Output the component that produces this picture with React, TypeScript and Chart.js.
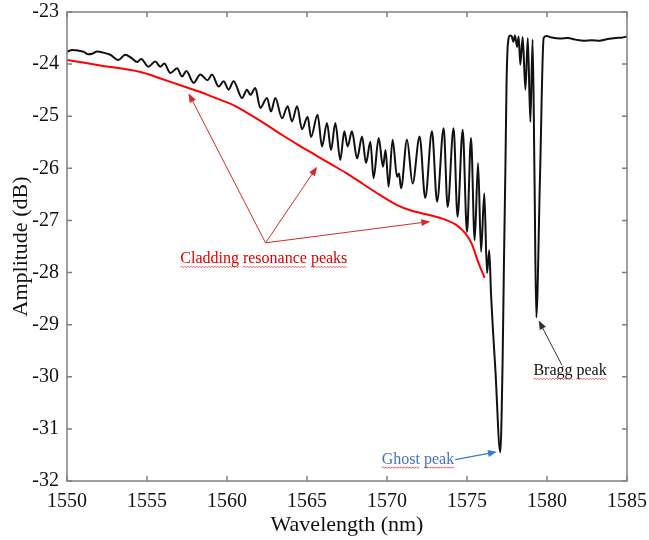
import { useEffect, useRef } from 'react';
import { Chart, registerables } from 'chart.js';

Chart.register(...registerables);

const FONT = '"Liberation Serif", "Times New Roman", serif';

// Measured transmission spectrum (black)
const blackWl = [
  1550.00, 1550.33, 1550.70, 1551.02, 1551.33, 1551.58, 1551.88, 1552.27, 1552.71, 1553.21,
  1553.64, 1554.02, 1554.39, 1554.64, 1555.08, 1555.52, 1555.83, 1556.08, 1556.46, 1556.88,
  1557.19, 1557.46, 1557.91, 1558.33, 1558.79, 1559.06, 1559.48, 1559.79, 1560.10, 1560.41,
  1560.94, 1561.25, 1561.46, 1561.77, 1562.08, 1562.50, 1562.75, 1563.02, 1563.44, 1563.79,
  1564.06, 1564.38, 1564.69, 1565.04, 1565.25, 1565.66, 1565.94, 1566.25, 1566.50, 1566.77,
  1567.08, 1567.33, 1567.54, 1567.81, 1568.13, 1568.44, 1568.69, 1568.96, 1569.16, 1569.48,
  1569.75, 1569.91, 1570.10, 1570.35, 1570.63, 1570.75, 1570.88, 1571.25, 1571.60, 1572.04,
  1572.39, 1572.81, 1573.13, 1573.54, 1573.79, 1574.16, 1574.41, 1574.73, 1575.00, 1575.25,
  1575.48, 1575.69, 1575.88, 1576.08, 1576.25, 1576.39, 1576.50, 1576.78, 1577.08, 1577.22,
  1577.31, 1577.40, 1577.47, 1577.56, 1577.70, 1577.80, 1577.90, 1578.00, 1578.13, 1578.23,
  1578.33, 1578.48, 1578.65, 1578.80, 1578.96, 1579.10, 1579.22, 1579.33, 1579.56, 1579.79,
  1579.95, 1580.30, 1580.80, 1581.30, 1581.80, 1582.30, 1582.80, 1583.30, 1583.80, 1584.30,
  1584.70, 1585.00,
];
const blackAmp = [
  -23.76, -23.73, -23.74, -23.76, -23.81, -23.80, -23.76, -23.78, -23.82, -23.92,
  -23.82, -23.88, -23.96, -23.90, -24.05, -23.95, -24.05, -23.99, -24.17, -24.08,
  -24.24, -24.13, -24.36, -24.20, -24.31, -24.20, -24.43, -24.33, -24.49, -24.33,
  -24.65, -24.49, -24.59, -24.46, -24.84, -24.65, -24.91, -24.65, -25.04, -24.81,
  -25.10, -24.81, -25.25, -25.01, -25.40, -24.97, -25.58, -25.13, -25.65, -25.13,
  -25.84, -25.29, -25.58, -25.29, -25.81, -25.39, -25.90, -25.49, -26.19, -25.42,
  -25.97, -25.65, -26.35, -25.45, -26.16, -26.10, -26.38, -25.45, -26.29, -25.39,
  -26.57, -25.29, -26.64, -25.23, -26.74, -25.23, -26.93, -25.26, -27.22, -25.42,
  -27.38, -25.90, -27.60, -26.48, -28.01, -27.57, -28.40, -29.90, -31.45, -29.80,
  -27.80, -26.00, -24.40, -23.60, -23.45, -23.47, -23.57, -23.45, -23.67, -23.47,
  -24.01, -23.48, -24.49, -23.50, -25.11, -23.53, -26.20, -28.86, -26.20, -23.50,
  -23.46, -23.49, -23.51, -23.50, -23.53, -23.55, -23.54, -23.55, -23.52, -23.50,
  -23.49, -23.47,
];

// Lower envelope of cladding resonances (red)
const redWl = [
  1550.0, 1552.0, 1554.6, 1555.8, 1557.5, 1558.3, 1559.1, 1560.5, 1561.5, 1562.5,
  1563.5, 1564.5, 1565.5, 1566.5, 1567.5, 1568.5, 1569.5, 1570.6, 1571.5, 1572.7,
  1573.5, 1574.3, 1574.9, 1575.3, 1575.7, 1576.1,
];
const redAmp = [
  -23.92, -24.02, -24.15, -24.27, -24.45, -24.53, -24.63, -24.80, -24.98, -25.17,
  -25.37, -25.56, -25.74, -25.92, -26.10, -26.30, -26.50, -26.70, -26.81, -26.90,
  -26.97, -27.08, -27.25, -27.45, -27.80, -28.10,
];

const xTickValues = [1550, 1555, 1560, 1565, 1570, 1575, 1580, 1585];
const yTickValues = [-32, -31, -30, -29, -28, -27, -26, -25, -24, -23];

// Annotations (data coordinates)
const claddingLabel = 'Cladding resonance peaks';
const claddingLabelAt = [1557.08, -27.82];
const claddingArrowFrom = [1562.41, -27.43];
const claddingArrowTo = [
  [1557.6, -24.56],
  [1565.63, -25.97],
  [1572.71, -27.02],
];
const braggLabel = 'Bragg peak';
const braggLabelAt = [1579.15, -29.97];
const braggArrowFrom = [1580.94, -29.78];
const braggArrowTo = [1579.48, -28.92];
const ghostLabel = 'Ghost peak';
const ghostLabelAt = [1569.67, -31.67];
const ghostArrowFrom = [1574.27, -31.59];
const ghostArrowTo = [1576.87, -31.44];

function drawArrow(ctx: CanvasRenderingContext2D, x1: number, y1: number, x2: number, y2: number, color: string, width: number) {
  const ang = Math.atan2(y2 - y1, x2 - x1);
  const hl = 9;
  const hw = 3.5;
  ctx.strokeStyle = color;
  ctx.fillStyle = color;
  ctx.lineWidth = width;
  ctx.beginPath();
  ctx.moveTo(x1, y1);
  ctx.lineTo(x2 - Math.cos(ang) * hl * 0.8, y2 - Math.sin(ang) * hl * 0.8);
  ctx.stroke();
  ctx.beginPath();
  ctx.moveTo(x2, y2);
  ctx.lineTo(x2 - Math.cos(ang) * hl - Math.sin(ang) * hw, y2 - Math.sin(ang) * hl + Math.cos(ang) * hw);
  ctx.lineTo(x2 - Math.cos(ang) * hl + Math.sin(ang) * hw, y2 - Math.sin(ang) * hl - Math.cos(ang) * hw);
  ctx.closePath();
  ctx.fill();
}

function drawLabel(ctx: CanvasRenderingContext2D, text: string, x: number, y: number, color: string) {
  ctx.font = `16px ${FONT}`;
  ctx.fillStyle = color;
  ctx.textAlign = 'left';
  ctx.textBaseline = 'alphabetic';
  ctx.fillText(text, x, y);
  // wavy spell-check underline under each word
  const words = text.split(' ');
  let cx = x;
  const spaceW = ctx.measureText(' ').width;
  ctx.strokeStyle = '#e03030';
  ctx.lineWidth = 0.8;
  for (const w of words) {
    const ww = ctx.measureText(w).width;
    ctx.beginPath();
    let up = true;
    ctx.moveTo(cx, y + 4);
    for (let px = cx + 1.5; px <= cx + ww; px += 1.5) {
      ctx.lineTo(px, y + (up ? 3 : 4.5));
      up = !up;
    }
    ctx.stroke();
    cx += ww + spaceW;
  }
}

const overlayPlugin = {
  id: 'overlay',
  afterDatasetsDraw(chart: any) {
    const { ctx, scales } = chart;
    const xs = scales.x;
    const ys = scales.y;
    const P = (p: number[]) => [xs.getPixelForValue(p[0]), ys.getPixelForValue(p[1])];
    ctx.save();
    const from = P(claddingArrowFrom);
    for (const t of claddingArrowTo) {
      const to = P(t);
      drawArrow(ctx, from[0], from[1], to[0], to[1], '#d42a2a', 1);
    }
    const cl = P(claddingLabelAt);
    drawLabel(ctx, claddingLabel, cl[0], cl[1], '#dd0000');
    const bf = P(braggArrowFrom);
    const bt = P(braggArrowTo);
    drawArrow(ctx, bf[0], bf[1], bt[0], bt[1], '#333333', 1);
    const bl = P(braggLabelAt);
    drawLabel(ctx, braggLabel, bl[0], bl[1], '#111111');
    const gf = P(ghostArrowFrom);
    const gt = P(ghostArrowTo);
    drawArrow(ctx, gf[0], gf[1], gt[0], gt[1], '#2f7fd6', 1.2);
    const gl = P(ghostLabelAt);
    drawLabel(ctx, ghostLabel, gl[0], gl[1], '#4472c4');
    ctx.restore();
  },
  afterDraw(chart: any) {
    const { ctx, chartArea: a, scales } = chart;
    const xs = scales.x;
    const ys = scales.y;
    ctx.save();
    ctx.strokeStyle = '#808080';
    ctx.lineWidth = 1.5;
    ctx.strokeRect(a.left, a.top, a.right - a.left, a.bottom - a.top);
    const tl = 5;
    ctx.beginPath();
    for (const v of xTickValues) {
      const px = xs.getPixelForValue(v);
      ctx.moveTo(px, a.bottom);
      ctx.lineTo(px, a.bottom - tl);
      ctx.moveTo(px, a.top);
      ctx.lineTo(px, a.top + tl);
    }
    for (const v of yTickValues) {
      const py = ys.getPixelForValue(v);
      ctx.moveTo(a.left, py);
      ctx.lineTo(a.left + tl, py);
      ctx.moveTo(a.right, py);
      ctx.lineTo(a.right - tl, py);
    }
    ctx.stroke();
    ctx.restore();
  },
};

const zeroOverhang = (s: any) => {
  s.paddingLeft = 0;
  s.paddingRight = 0;
  s.paddingTop = 0;
  s.paddingBottom = 0;
};

export default function App() {
  const ref = useRef<HTMLCanvasElement | null>(null);
  useEffect(() => {
    document.body.style.margin = '0';
    const canvas = ref.current;
    if (!canvas) return;
    const chart = new Chart(canvas, {
      type: 'line',
      data: {
        datasets: [
          {
            label: 'Spectrum',
            data: blackWl.map((x, i) => ({ x, y: blackAmp[i] })),
            borderColor: '#111111',
            borderWidth: 2,
            pointRadius: 0,
            tension: 0.4,
            cubicInterpolationMode: 'monotone',
            fill: false,
          },
          {
            label: 'Envelope',
            data: redWl.map((x, i) => ({ x, y: redAmp[i] })),
            borderColor: '#ff0000',
            borderWidth: 2,
            pointRadius: 0,
            tension: 0.4,
            cubicInterpolationMode: 'monotone',
            fill: false,
          },
        ],
      },
      options: {
        animation: false,
        responsive: false,
        events: [],
        layout: { padding: { top: 12, right: 22, left: 0, bottom: 0 } },
        plugins: { legend: { display: false }, tooltip: { enabled: false } },
        scales: {
          x: {
            type: 'linear',
            min: 1550,
            max: 1585,
            grid: { display: false, drawTicks: false },
            border: { display: false },
            afterBuildTicks: (s: any) => {
              s.ticks = xTickValues.map((v) => ({ value: v }));
            },
            afterFit: (s: any) => {
              s.height = 59;
              zeroOverhang(s);
            },
            ticks: {
              autoSkip: false,
              maxRotation: 0,
              padding: 9,
              color: '#111',
              font: { family: FONT, size: 20 },
              callback: (v: any) => String(v),
            },
            title: {
              display: true,
              text: 'Wavelength (nm)',
              color: '#111',
              font: { family: FONT, size: 22 },
              padding: { top: 0, bottom: 2 },
            },
          },
          y: {
            type: 'linear',
            min: -32,
            max: -23,
            grid: { display: false, drawTicks: false },
            border: { display: false },
            afterBuildTicks: (s: any) => {
              s.ticks = yTickValues.map((v) => ({ value: v }));
            },
            afterFit: (s: any) => {
              s.width = 67;
              zeroOverhang(s);
            },
            ticks: {
              autoSkip: false,
              padding: 8,
              color: '#111',
              font: { family: FONT, size: 20 },
              callback: (v: any) => String(v),
            },
            title: {
              display: true,
              text: 'Amplitude (dB)',
              color: '#111',
              font: { family: FONT, size: 22 },
              padding: { top: 8, bottom: 0 },
            },
          },
        },
      },
      plugins: [overlayPlugin],
    } as any);
    return () => chart.destroy();
  }, []);
  return (
    <div style={{ position: 'absolute', left: 0, top: 0, width: 649, height: 540 }}>
      <canvas ref={ref} width={649} height={540} />
    </div>
  );
}
